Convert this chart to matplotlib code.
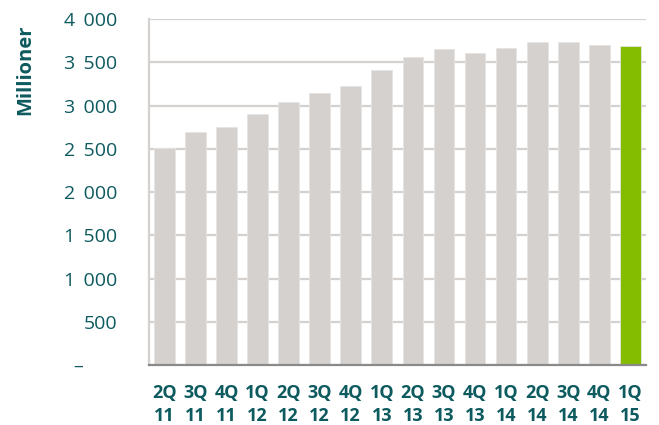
import matplotlib
matplotlib.use("Agg")
import matplotlib.pyplot as plt
import matplotlib.transforms as mtransforms

categories = ["2Q\n11", "3Q\n11", "4Q\n11", "1Q\n12", "2Q\n12", "3Q\n12", "4Q\n12", "1Q\n13",
              "2Q\n13", "3Q\n13", "4Q\n13", "1Q\n14", "2Q\n14", "3Q\n14", "4Q\n14", "1Q\n15"]
values = [2510, 2690, 2755, 2905, 3040, 3150, 3230, 3415,
          3565, 3650, 3605, 3665, 3740, 3730, 3700, 3685]
yticks = [0, 500, 1000, 1500, 2000, 2500, 3000, 3500, 4000]
ytick_labels = ["–", "500", "1 \u2009000", "1 \u2009500", "2 \u2009000", "2 \u2009500",
                "3 \u2009000", "3 \u2009500", "4 \u2009000"]

TEXT = "#0d5a5f"
GREY = "#d4d1ce"
GREEN = "#84bc00"

plt.rcParams['font.family'] = ['Open Sans', 'DejaVu Sans']

fig = plt.figure(figsize=(6.59, 4.25), dpi=100)
ax = fig.add_axes([0.226, 0.141, 0.754, 0.814])

colors = [GREY] * (len(values) - 1) + [GREEN]
x = list(range(len(values)))
ax.bar(x, values, width=0.67, color=colors, zorder=3, edgecolor="#e6e4e2", linewidth=0.6)

ax.set_xlim(-0.5, 15.5)
ax.set_ylim(0, 4000)
ax.set_yticks(yticks)
ax.set_yticklabels(ytick_labels)
ax.yaxis.grid(True, color=GREY, linewidth=1.6, zorder=0)
ax.set_axisbelow(True)

ax.set_xticks(x)
ax.set_xticklabels(categories, fontsize=13, fontweight="bold", color=TEXT, linespacing=1.35)
ax.tick_params(axis="x", length=0, pad=13.5)
ax.tick_params(axis="y", length=0, pad=23, labelsize=14, labelcolor=TEXT)

# shift the dash for zero
lbl0 = ax.get_yticklabels()[0]
lbl0.set_transform(lbl0.get_transform() + mtransforms.ScaledTranslation(-0.34, 0, fig.dpi_scale_trans))

for s in ["top", "right"]:
    ax.spines[s].set_visible(False)
ax.spines["left"].set_color(GREY)
ax.spines["left"].set_linewidth(1.6)
ax.spines["bottom"].set_color("#8a8a8a")
ax.spines["bottom"].set_linewidth(1.6)
ax.spines["bottom"].set_zorder(4)

fig.text(0.038, 0.835, "Millioner", rotation=90, fontsize=14.5, fontweight="bold",
         color=TEXT, ha="center", va="center")

fig.savefig("out.png", dpi=100)
